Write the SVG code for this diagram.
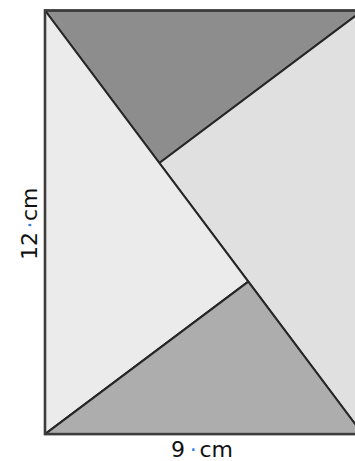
<svg xmlns="http://www.w3.org/2000/svg" width="355" height="461" viewBox="0 0 355 461">
  <style>
    .piece { stroke: #262626; stroke-width: 2; stroke-linejoin: round; }
    .frame { fill: none; stroke: #3c3c3c; stroke-width: 2.6; }
    .lbl { font-family: "DejaVu Sans", "Liberation Sans", sans-serif; font-size: 22px; fill: #111111; }
    .dot { fill: #2a7de6; }
  </style>
  <rect width="355" height="461" fill="#ffffff"/>
  <g id="top-triangle">
    <polygon class="piece" points="45,10.5 362.7,10.5 159.4,163" fill="#8d8d8d"/>
  </g>
  <g id="right-triangle">
    <polygon class="piece" points="362.7,10.5 362.7,434.1 159.4,163" fill="#e0e0e0"/>
  </g>
  <g id="left-triangle">
    <polygon class="piece" points="45,10.5 45,434.1 248.3,281.6" fill="#ebebeb"/>
  </g>
  <g id="bottom-triangle">
    <polygon class="piece" points="45,434.1 362.7,434.1 248.3,281.6" fill="#adadad"/>
  </g>
  <g id="connectors">
    <rect class="frame" x="45" y="10.5" width="317.7" height="423.6"/>
  </g>
  <g id="label-height">
    <text class="lbl" transform="translate(37,259) rotate(-90)"><tspan x="-1" y="0">12</tspan><tspan class="dot" x="34" y="0" text-anchor="middle">·</tspan><tspan x="38" y="0">cm</tspan></text>
  </g>
  <g id="label-width">
    <text class="lbl" y="456.5"><tspan x="171">9</tspan><tspan class="dot" x="193.3" text-anchor="middle">·</tspan><tspan x="199.5">cm</tspan></text>
  </g>
</svg>
